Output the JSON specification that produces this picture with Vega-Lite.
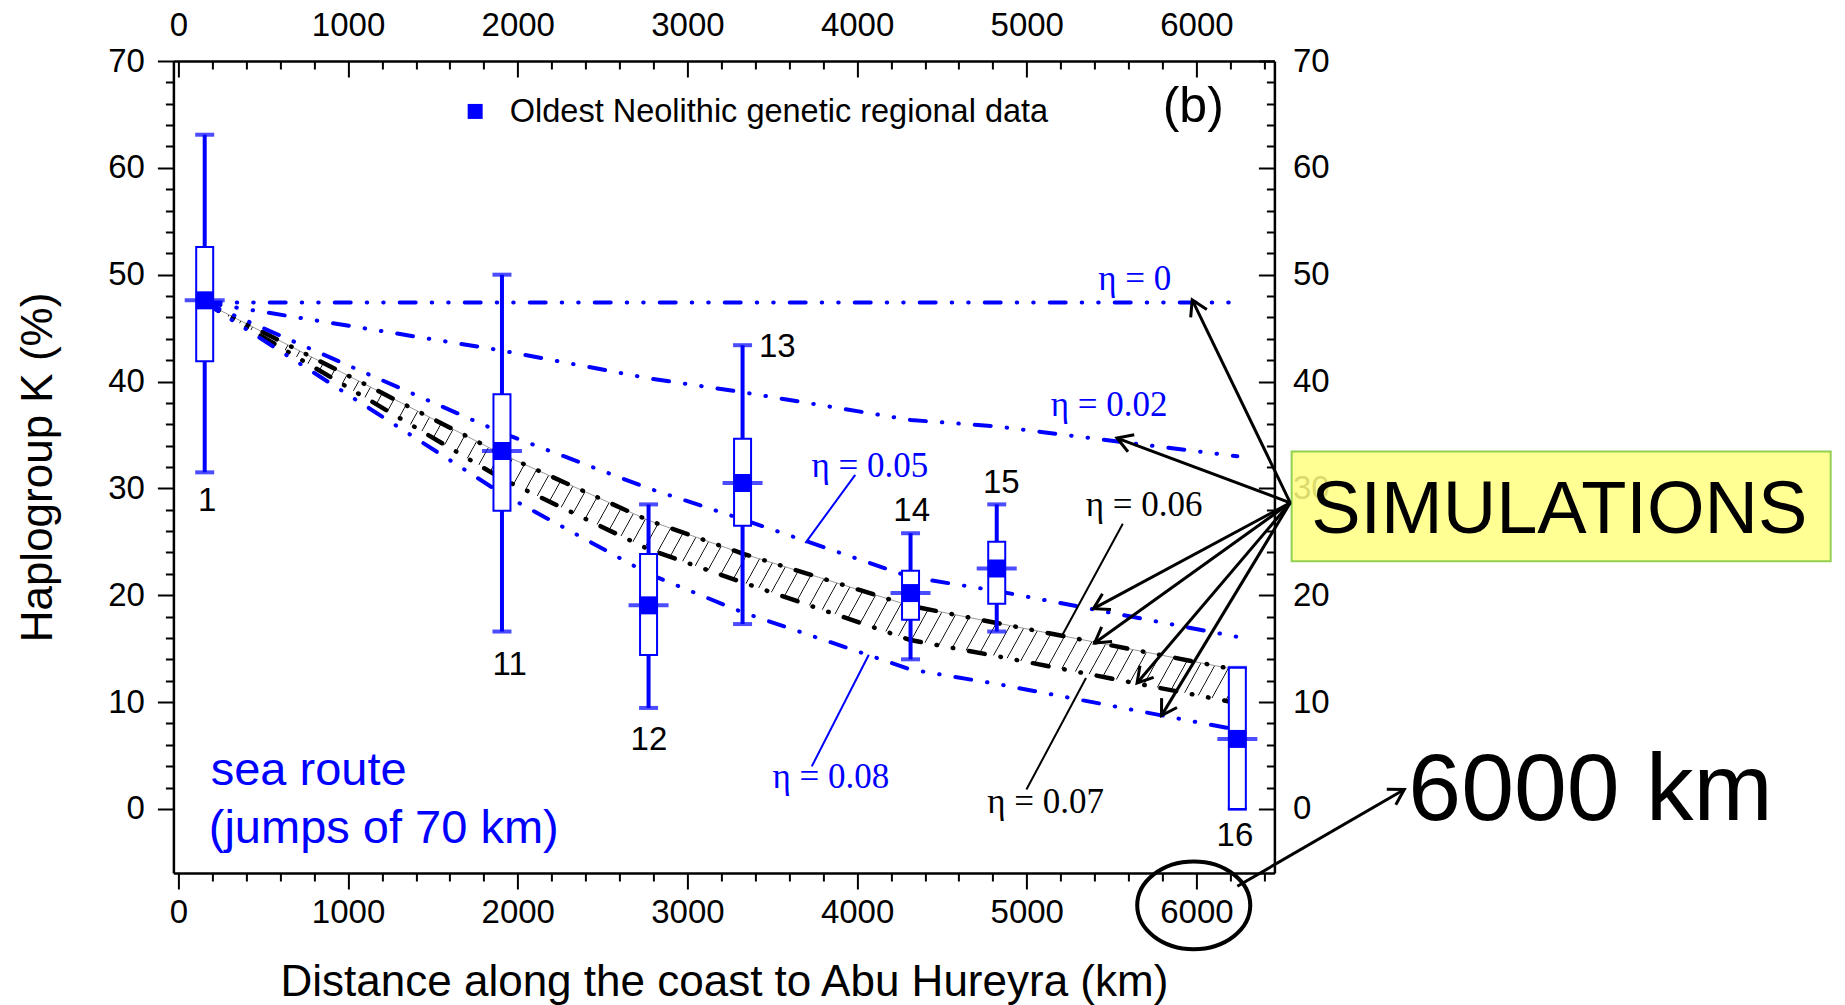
{
"$schema": "https://vega.github.io/schema/vega-lite/v6.json",
"width": 1101, "height": 812,
"autosize": {"type": "none"},
"padding": {"left": 173.4, "top": 61, "right": 570.6, "bottom": 132},
"background": "white",
"config": {
 "view": {"stroke": null},
 "axis": {"grid": false, "format": "d", "domainColor": "#000", "domainWidth": 2.5, "tickColor": "#000", "tickWidth": 2, "labelColor": "#000", "labelFont": "Liberation Sans", "labelFontSize": 33, "titleFont": "Liberation Sans", "titleFontSize": 44, "titleFontWeight": "normal", "titleColor": "#000", "labelFlush": false, "labelOverlap": false, "labelBound": false},
 "text": {"font": "Liberation Sans"}
},
"datasets": {
 "sites": [
  {"site":"1","distance":155,"mean":47.6,"q1":41.9,"q3":52.6,"low":31.5,"high":63.1},
  {"site":"11","distance":1907,"mean":33.5,"q1":27.9,"q3":38.8,"low":16.6,"high":50.0},
  {"site":"12","distance":2771,"mean":19.05,"q1":14.4,"q3":23.85,"low":9.45,"high":28.5},
  {"site":"13","distance":3325,"mean":30.5,"q1":26.5,"q3":34.65,"low":17.3,"high":43.4},
  {"site":"14","distance":4315,"mean":20.2,"q1":17.7,"q3":22.3,"low":14.0,"high":25.8},
  {"site":"15","distance":4823,"mean":22.5,"q1":19.2,"q3":25.0,"low":16.6,"high":28.5},
  {"site":"16","distance":6241,"mean":6.55,"q1":0,"q3":13.2,"low":0,"high":13.2}
 ],
 "siteLabels": [
  {"label":"1","distance":170,"K":27.84},
  {"label":"11","distance":1952,"K":12.56},
  {"label":"12","distance":2773,"K":5.48},
  {"label":"13","distance":3530,"K":42.34},
  {"label":"14","distance":4322,"K":26.9},
  {"label":"15","distance":4850,"K":29.56},
  {"label":"16","distance":6227,"K":-3.5}
 ],
 "sim": [
  {"distance":155,"eta0":47.4,"eta002":47.4,"eta005":47.4,"eta006":47.4,"eta007":47.4,"eta008":47.4},
  {"distance":1907,"eta0":47.4,"eta002":42.9,"eta005":35.2,"eta006":33.2,"eta007":30.9,"eta008":29.5},
  {"distance":2771,"eta0":47.4,"eta002":40.3,"eta005":30.0,"eta006":27.0,"eta007":24.3,"eta008":22.0},
  {"distance":3325,"eta0":47.4,"eta002":39.0,"eta005":27.1,"eta006":23.9,"eta007":21.2,"eta008":18.4},
  {"distance":4315,"eta0":47.4,"eta002":36.4,"eta005":21.7,"eta006":19.0,"eta007":15.8,"eta008":13.05},
  {"distance":4823,"eta0":47.4,"eta002":35.8,"eta005":20.4,"eta006":17.4,"eta007":14.3,"eta008":11.7},
  {"distance":6241,"eta0":47.4,"eta002":33.0,"eta005":16.1,"eta006":13.0,"eta007":9.9,"eta008":7.4}
 ],
 "etaLabels": [
  {"label":"η = 0","eta":0,"distance":5636,"K":48.58},
  {"label":"η = 0.02","eta":0.02,"distance":5485,"K":36.73},
  {"label":"η = 0.05","eta":0.05,"distance":4075,"K":31.11},
  {"label":"η = 0.06","eta":0.06,"distance":5692,"K":27.37},
  {"label":"η = 0.07","eta":0.07,"distance":5111,"K":-0.37},
  {"label":"η = 0.08","eta":0.08,"distance":3845,"K":1.96}
 ],
 "pointers": [
  {"eta":0.05,"distance":3989,"K":31.27,"distance2":3695,"K2":24.88},
  {"eta":0.08,"distance":3733,"K":3.98,"distance2":4069,"K2":14.43},
  {"eta":0.06,"distance":5566,"K":26.69,"distance2":5206,"K2":16.15},
  {"eta":0.07,"distance":4998,"K":1.81,"distance2":5349,"K2":12.25}
 ],
 "arrows": [
  {"target":"η = 0","distance":6553,"K":28.65,"distance2":5975,"K2":47.64,"angle":244.0},
  {"target":"η = 0.02","distance":6553,"K":28.65,"distance2":5532,"K2":34.71,"angle":200.3},
  {"target":"η = 0.05","distance":6553,"K":28.65,"distance2":5393,"K2":18.74,"angle":151.9},
  {"target":"η = 0.06","distance":6553,"K":28.65,"distance2":5400,"K2":15.53,"angle":144.6},
  {"target":"η = 0.07","distance":6553,"K":28.65,"distance2":5650,"K2":11.79,"angle":130.6},
  {"target":"η = 0.08","distance":6553,"K":28.65,"distance2":5794,"K2":8.73,"angle":121.4},
  {"target":"6000 km","distance":6241,"K":-7.24,"distance2":7225,"K2":1.81,"angle":330.15}
 ],
 "simBox": [{"label":"SIMULATIONS","distance":6561,"distance2":9738,"K":33.45,"K2":23.18,"textDistance":6676,"textK":25.82}],
 "circled": [{"label":"6000","distance":5984,"K":-9.03}],
 "bigLabel": [{"label":"6000 km","distance":7249,"K":-1.07}],
 "route": [{"label":"sea route","distance":190,"K":2.27},{"label":"(jumps of 70 km)","distance":179,"K":-3.15}],
 "legend": [{"label":"Oldest Neolithic genetic regional data","distance":1749,"K":65.28,"textDistance":1953,"textK":64.32}],
 "panel": [{"label":"(b)","distance":5981,"K":64.32}]
},
"resolve": {"axis": {"x": "independent", "y": "independent"}},
"layer": [
 {"data": {"name": "sim"},
  "mark": {"type": "area", "clip": false, "fill": {"gradient": "linear", "x1": 0, "y1": 0, "x2": 1.4, "y2": 0.3, "stops": [
{"offset":0,"color":"#fff"},{"offset":0.0006,"color":"#000"},{"offset":0.0012,"color":"#fff"},
{"offset":0.01,"color":"#fff"},{"offset":0.0106,"color":"#000"},{"offset":0.0112,"color":"#fff"},
{"offset":0.02,"color":"#fff"},{"offset":0.0206,"color":"#000"},{"offset":0.0212,"color":"#fff"},
{"offset":0.03,"color":"#fff"},{"offset":0.0306,"color":"#000"},{"offset":0.0312,"color":"#fff"},
{"offset":0.04,"color":"#fff"},{"offset":0.0406,"color":"#000"},{"offset":0.0412,"color":"#fff"},
{"offset":0.05,"color":"#fff"},{"offset":0.0506,"color":"#000"},{"offset":0.0512,"color":"#fff"},
{"offset":0.06,"color":"#fff"},{"offset":0.0606,"color":"#000"},{"offset":0.0612,"color":"#fff"},
{"offset":0.07,"color":"#fff"},{"offset":0.0706,"color":"#000"},{"offset":0.0712,"color":"#fff"},
{"offset":0.08,"color":"#fff"},{"offset":0.0806,"color":"#000"},{"offset":0.0812,"color":"#fff"},
{"offset":0.09,"color":"#fff"},{"offset":0.0906,"color":"#000"},{"offset":0.0912,"color":"#fff"},
{"offset":0.10,"color":"#fff"},{"offset":0.1006,"color":"#000"},{"offset":0.1012,"color":"#fff"},
{"offset":0.11,"color":"#fff"},{"offset":0.1106,"color":"#000"},{"offset":0.1112,"color":"#fff"},
{"offset":0.12,"color":"#fff"},{"offset":0.1206,"color":"#000"},{"offset":0.1212,"color":"#fff"},
{"offset":0.13,"color":"#fff"},{"offset":0.1306,"color":"#000"},{"offset":0.1312,"color":"#fff"},
{"offset":0.14,"color":"#fff"},{"offset":0.1406,"color":"#000"},{"offset":0.1412,"color":"#fff"},
{"offset":0.15,"color":"#fff"},{"offset":0.1506,"color":"#000"},{"offset":0.1512,"color":"#fff"},
{"offset":0.16,"color":"#fff"},{"offset":0.1606,"color":"#000"},{"offset":0.1612,"color":"#fff"},
{"offset":0.17,"color":"#fff"},{"offset":0.1706,"color":"#000"},{"offset":0.1712,"color":"#fff"},
{"offset":0.18,"color":"#fff"},{"offset":0.1806,"color":"#000"},{"offset":0.1812,"color":"#fff"},
{"offset":0.19,"color":"#fff"},{"offset":0.1906,"color":"#000"},{"offset":0.1912,"color":"#fff"},
{"offset":0.20,"color":"#fff"},{"offset":0.2006,"color":"#000"},{"offset":0.2012,"color":"#fff"},
{"offset":0.21,"color":"#fff"},{"offset":0.2106,"color":"#000"},{"offset":0.2112,"color":"#fff"},
{"offset":0.22,"color":"#fff"},{"offset":0.2206,"color":"#000"},{"offset":0.2212,"color":"#fff"},
{"offset":0.23,"color":"#fff"},{"offset":0.2306,"color":"#000"},{"offset":0.2312,"color":"#fff"},
{"offset":0.24,"color":"#fff"},{"offset":0.2406,"color":"#000"},{"offset":0.2412,"color":"#fff"},
{"offset":0.25,"color":"#fff"},{"offset":0.2506,"color":"#000"},{"offset":0.2512,"color":"#fff"},
{"offset":0.26,"color":"#fff"},{"offset":0.2606,"color":"#000"},{"offset":0.2612,"color":"#fff"},
{"offset":0.27,"color":"#fff"},{"offset":0.2706,"color":"#000"},{"offset":0.2712,"color":"#fff"},
{"offset":0.28,"color":"#fff"},{"offset":0.2806,"color":"#000"},{"offset":0.2812,"color":"#fff"},
{"offset":0.29,"color":"#fff"},{"offset":0.2906,"color":"#000"},{"offset":0.2912,"color":"#fff"},
{"offset":0.30,"color":"#fff"},{"offset":0.3006,"color":"#000"},{"offset":0.3012,"color":"#fff"},
{"offset":0.31,"color":"#fff"},{"offset":0.3106,"color":"#000"},{"offset":0.3112,"color":"#fff"},
{"offset":0.32,"color":"#fff"},{"offset":0.3206,"color":"#000"},{"offset":0.3212,"color":"#fff"},
{"offset":0.33,"color":"#fff"},{"offset":0.3306,"color":"#000"},{"offset":0.3312,"color":"#fff"},
{"offset":0.34,"color":"#fff"},{"offset":0.3406,"color":"#000"},{"offset":0.3412,"color":"#fff"},
{"offset":0.35,"color":"#fff"},{"offset":0.3506,"color":"#000"},{"offset":0.3512,"color":"#fff"},
{"offset":0.36,"color":"#fff"},{"offset":0.3606,"color":"#000"},{"offset":0.3612,"color":"#fff"},
{"offset":0.37,"color":"#fff"},{"offset":0.3706,"color":"#000"},{"offset":0.3712,"color":"#fff"},
{"offset":0.38,"color":"#fff"},{"offset":0.3806,"color":"#000"},{"offset":0.3812,"color":"#fff"},
{"offset":0.39,"color":"#fff"},{"offset":0.3906,"color":"#000"},{"offset":0.3912,"color":"#fff"},
{"offset":0.40,"color":"#fff"},{"offset":0.4006,"color":"#000"},{"offset":0.4012,"color":"#fff"},
{"offset":0.41,"color":"#fff"},{"offset":0.4106,"color":"#000"},{"offset":0.4112,"color":"#fff"},
{"offset":0.42,"color":"#fff"},{"offset":0.4206,"color":"#000"},{"offset":0.4212,"color":"#fff"},
{"offset":0.43,"color":"#fff"},{"offset":0.4306,"color":"#000"},{"offset":0.4312,"color":"#fff"},
{"offset":0.44,"color":"#fff"},{"offset":0.4406,"color":"#000"},{"offset":0.4412,"color":"#fff"},
{"offset":0.45,"color":"#fff"},{"offset":0.4506,"color":"#000"},{"offset":0.4512,"color":"#fff"},
{"offset":0.46,"color":"#fff"},{"offset":0.4606,"color":"#000"},{"offset":0.4612,"color":"#fff"},
{"offset":0.47,"color":"#fff"},{"offset":0.4706,"color":"#000"},{"offset":0.4712,"color":"#fff"},
{"offset":0.48,"color":"#fff"},{"offset":0.4806,"color":"#000"},{"offset":0.4812,"color":"#fff"},
{"offset":0.49,"color":"#fff"},{"offset":0.4906,"color":"#000"},{"offset":0.4912,"color":"#fff"},
{"offset":0.50,"color":"#fff"},{"offset":0.5006,"color":"#000"},{"offset":0.5012,"color":"#fff"},
{"offset":0.51,"color":"#fff"},{"offset":0.5106,"color":"#000"},{"offset":0.5112,"color":"#fff"},
{"offset":0.52,"color":"#fff"},{"offset":0.5206,"color":"#000"},{"offset":0.5212,"color":"#fff"},
{"offset":0.53,"color":"#fff"},{"offset":0.5306,"color":"#000"},{"offset":0.5312,"color":"#fff"},
{"offset":0.54,"color":"#fff"},{"offset":0.5406,"color":"#000"},{"offset":0.5412,"color":"#fff"},
{"offset":0.55,"color":"#fff"},{"offset":0.5506,"color":"#000"},{"offset":0.5512,"color":"#fff"},
{"offset":0.56,"color":"#fff"},{"offset":0.5606,"color":"#000"},{"offset":0.5612,"color":"#fff"},
{"offset":0.57,"color":"#fff"},{"offset":0.5706,"color":"#000"},{"offset":0.5712,"color":"#fff"},
{"offset":0.58,"color":"#fff"},{"offset":0.5806,"color":"#000"},{"offset":0.5812,"color":"#fff"},
{"offset":0.59,"color":"#fff"},{"offset":0.5906,"color":"#000"},{"offset":0.5912,"color":"#fff"},
{"offset":0.60,"color":"#fff"},{"offset":0.6006,"color":"#000"},{"offset":0.6012,"color":"#fff"},
{"offset":0.61,"color":"#fff"},{"offset":0.6106,"color":"#000"},{"offset":0.6112,"color":"#fff"},
{"offset":0.62,"color":"#fff"},{"offset":0.6206,"color":"#000"},{"offset":0.6212,"color":"#fff"},
{"offset":0.63,"color":"#fff"},{"offset":0.6306,"color":"#000"},{"offset":0.6312,"color":"#fff"},
{"offset":0.64,"color":"#fff"},{"offset":0.6406,"color":"#000"},{"offset":0.6412,"color":"#fff"},
{"offset":0.65,"color":"#fff"},{"offset":0.6506,"color":"#000"},{"offset":0.6512,"color":"#fff"},
{"offset":0.66,"color":"#fff"},{"offset":0.6606,"color":"#000"},{"offset":0.6612,"color":"#fff"},
{"offset":0.67,"color":"#fff"},{"offset":0.6706,"color":"#000"},{"offset":0.6712,"color":"#fff"},
{"offset":0.68,"color":"#fff"},{"offset":0.6806,"color":"#000"},{"offset":0.6812,"color":"#fff"},
{"offset":0.69,"color":"#fff"},{"offset":0.6906,"color":"#000"},{"offset":0.6912,"color":"#fff"},
{"offset":0.70,"color":"#fff"},{"offset":0.7006,"color":"#000"},{"offset":0.7012,"color":"#fff"},
{"offset":0.71,"color":"#fff"},{"offset":0.7106,"color":"#000"},{"offset":0.7112,"color":"#fff"},
{"offset":0.72,"color":"#fff"},{"offset":0.7206,"color":"#000"},{"offset":0.7212,"color":"#fff"},
{"offset":0.73,"color":"#fff"},{"offset":0.7306,"color":"#000"},{"offset":0.7312,"color":"#fff"},
{"offset":0.74,"color":"#fff"},{"offset":0.7406,"color":"#000"},{"offset":0.7412,"color":"#fff"},
{"offset":0.75,"color":"#fff"},{"offset":0.7506,"color":"#000"},{"offset":0.7512,"color":"#fff"},
{"offset":0.76,"color":"#fff"},{"offset":0.7606,"color":"#000"},{"offset":0.7612,"color":"#fff"},
{"offset":0.77,"color":"#fff"},{"offset":0.7706,"color":"#000"},{"offset":0.7712,"color":"#fff"},
{"offset":0.78,"color":"#fff"},{"offset":0.7806,"color":"#000"},{"offset":0.7812,"color":"#fff"},
{"offset":0.79,"color":"#fff"},{"offset":0.7906,"color":"#000"},{"offset":0.7912,"color":"#fff"},
{"offset":0.80,"color":"#fff"},{"offset":0.8006,"color":"#000"},{"offset":0.8012,"color":"#fff"},
{"offset":0.81,"color":"#fff"},{"offset":0.8106,"color":"#000"},{"offset":0.8112,"color":"#fff"},
{"offset":0.82,"color":"#fff"},{"offset":0.8206,"color":"#000"},{"offset":0.8212,"color":"#fff"},
{"offset":0.83,"color":"#fff"},{"offset":0.8306,"color":"#000"},{"offset":0.8312,"color":"#fff"}
  ]}},
  "encoding": {
   "x": {"field": "distance", "type": "quantitative", "scale": {"domain": [0, 6430], "nice": false, "zero": false},
     "axis": {"orient": "bottom", "values": [0,1000,2000,3000,4000,5000,6000], "format": "d", "tickSize": 16, "labelPadding": 33.6, "labelBaseline": "alphabetic", "title": "Distance along the coast to Abu Hureyra (km)", "titleY": 122, "titleBaseline": "alphabetic", "domain": true}},
   "y": {"field": "eta007", "type": "quantitative", "scale": {"domain": [-6, 70], "nice": false, "zero": false},
     "axis": {"orient": "left", "values": [0,10,20,30,40,50,60,70], "format": "d", "tickSize": 16, "labelPadding": 13, "title": "Haplogroup K (%)", "titleX": -121.4, "titleY": 406, "titleAngle": -90, "titleAlign": "center", "titleBaseline": "alphabetic", "domain": true}},
   "y2": {"field": "eta006"}
  }},
 {"data": {"name": "sim"},
  "mark": {"type": "line", "color": "#9a9a9a", "strokeWidth": 1, "clip": false},
  "encoding": {
   "x": {"field": "distance", "type": "quantitative", "scale": {"domain": [0, 6430], "nice": false, "zero": false},
     "axis": {"orient": "bottom", "values": [200,400,600,800,1200,1400,1600,1800,2200,2400,2600,2800,3200,3400,3600,3800,4200,4400,4600,4800,5200,5400,5600,5800,6200,6400], "tickSize": 8, "labels": false, "domain": false, "title": null}},
   "y": {"field": "eta006", "type": "quantitative", "scale": {"domain": [-6, 70], "nice": false, "zero": false},
     "axis": {"orient": "left", "values": [2,4,6,8,12,14,16,18,22,24,26,28,32,34,36,38,42,44,46,48,52,54,56,58,62,64,66,68], "tickSize": 8, "labels": false, "domain": false, "title": null}}
  }},
 {"data": {"name": "sim"},
  "transform": [{"fold": ["eta006", "eta007"], "as": ["curve", "K"]}],
  "mark": {"type": "line", "color": "#000", "strokeWidth": 4.5, "strokeDash": [16, 16, 0.5, 16, 0.5, 16], "strokeCap": "round", "clip": false},
  "encoding": {
   "x": {"field": "distance", "type": "quantitative", "scale": {"domain": [0, 6430], "nice": false, "zero": false},
     "axis": {"orient": "top", "values": [0,1000,2000,3000,4000,5000,6000], "format": "d", "tickSize": 0, "tickWidth": 0, "labelPadding": 25.8, "labelBaseline": "alphabetic", "title": null, "domain": true}},
   "y": {"field": "K", "type": "quantitative", "scale": {"domain": [-6, 70], "nice": false, "zero": false},
     "axis": {"orient": "right", "values": [0,10,20,30,40,50,60,70], "format": "d", "tickSize": 0, "tickWidth": 0, "labelPadding": 18, "title": null, "domain": true}},
   "detail": {"field": "curve"}
  }},
 {"data": {"name": "sim"},
  "transform": [{"fold": ["eta0", "eta002", "eta005", "eta008"], "as": ["curve", "K"]}],
  "mark": {"type": "line", "color": "#0000ff", "strokeWidth": 4, "strokeDash": [16, 16, 0.5, 16, 0.5, 16], "strokeCap": "round", "clip": false},
  "encoding": {
   "x": {"field": "distance", "type": "quantitative", "scale": {"domain": [0, 6430], "nice": false, "zero": false},
     "axis": {"orient": "bottom", "offset": -812, "values": [0,1000,2000,3000,4000,5000,6000], "tickSize": 16, "labels": false, "domain": false, "title": null}},
   "y": {"field": "K", "type": "quantitative", "scale": {"domain": [-6, 70], "nice": false, "zero": false},
     "axis": {"orient": "left", "offset": -1101, "values": [0,10,20,30,40,50,60,70], "tickSize": 16, "labels": false, "domain": false, "title": null}},
   "detail": {"field": "curve"}
  }},
 {"data": {"name": "sites"},
  "mark": {"type": "rule", "color": "#0000ff", "strokeWidth": 4, "clip": false},
  "encoding": {
   "x": {"field": "distance", "type": "quantitative", "scale": {"domain": [0, 6430], "nice": false, "zero": false},
     "axis": {"orient": "bottom", "offset": -812, "values": [200,400,600,800,1200,1400,1600,1800,2200,2400,2600,2800,3200,3400,3600,3800,4200,4400,4600,4800,5200,5400,5600,5800,6200,6400], "tickSize": 8, "labels": false, "domain": false, "title": null}},
   "y": {"field": "low", "type": "quantitative", "scale": {"domain": [-6, 70], "nice": false, "zero": false},
     "axis": {"orient": "left", "offset": -1101, "values": [2,4,6,8,12,14,16,18,22,24,26,28,32,34,36,38,42,44,46,48,52,54,56,58,62,64,66,68], "tickSize": 8, "labels": false, "domain": false, "title": null}},
   "y2": {"field": "high"}
  }},
 {"data": {"name": "sites"},
  "transform": [{"fold": ["low", "high"], "as": ["end", "K"]}],
  "mark": {"type": "tick", "orient": "horizontal", "color": "#0000ff", "size": 19, "thickness": 4, "clip": false},
  "encoding": {
   "x": {"field": "distance", "type": "quantitative", "scale": {"domain": [0, 6430], "nice": false, "zero": false}, "axis": null},
   "y": {"field": "K", "type": "quantitative", "scale": {"domain": [-6, 70], "nice": false, "zero": false}, "axis": null}
  }},
 {"data": {"name": "sites"},
  "mark": {"type": "bar", "width": 17, "fill": "white", "stroke": "#0000ff", "strokeWidth": 2, "clip": false},
  "encoding": {
   "x": {"field": "distance", "type": "quantitative", "scale": {"domain": [0, 6430], "nice": false, "zero": false}, "axis": null},
   "y": {"field": "q1", "type": "quantitative", "scale": {"domain": [-6, 70], "nice": false, "zero": false}, "axis": null},
   "y2": {"field": "q3"}
  }},
 {"data": {"name": "sites"},
  "mark": {"type": "tick", "orient": "horizontal", "color": "#0000ff", "size": 40, "thickness": 4, "clip": false},
  "encoding": {
   "x": {"field": "distance", "type": "quantitative", "scale": {"domain": [0, 6430], "nice": false, "zero": false}, "axis": null},
   "y": {"field": "mean", "type": "quantitative", "scale": {"domain": [-6, 70], "nice": false, "zero": false}, "axis": null}
  }},
 {"data": {"name": "sites"},
  "mark": {"type": "point", "shape": "square", "filled": true, "color": "#0000ff", "size": 324, "opacity": 1, "strokeWidth": 0, "clip": false},
  "encoding": {
   "x": {"field": "distance", "type": "quantitative", "scale": {"domain": [0, 6430], "nice": false, "zero": false}, "axis": null},
   "y": {"field": "mean", "type": "quantitative", "scale": {"domain": [-6, 70], "nice": false, "zero": false}, "axis": null}
  }},
 {"data": {"name": "siteLabels"},
  "mark": {"type": "text", "fontSize": 33, "align": "center", "baseline": "alphabetic", "color": "#000", "clip": false},
  "encoding": {
   "x": {"field": "distance", "type": "quantitative", "scale": {"domain": [0, 6430], "nice": false, "zero": false}, "axis": null},
   "y": {"field": "K", "type": "quantitative", "scale": {"domain": [-6, 70], "nice": false, "zero": false}, "axis": null},
   "text": {"field": "label"}
  }},
 {"data": {"name": "legend"},
  "mark": {"type": "point", "shape": "square", "filled": true, "color": "#0000ff", "size": 225, "opacity": 1, "strokeWidth": 0, "clip": false},
  "encoding": {
   "x": {"field": "distance", "type": "quantitative", "scale": {"domain": [0, 6430], "nice": false, "zero": false}, "axis": null},
   "y": {"field": "K", "type": "quantitative", "scale": {"domain": [-6, 70], "nice": false, "zero": false}, "axis": null}
  }},
 {"data": {"name": "legend"},
  "mark": {"type": "text", "fontSize": 32.5, "align": "left", "baseline": "alphabetic", "color": "#000", "clip": false},
  "encoding": {
   "x": {"field": "textDistance", "type": "quantitative", "scale": {"domain": [0, 6430], "nice": false, "zero": false}, "axis": null},
   "y": {"field": "textK", "type": "quantitative", "scale": {"domain": [-6, 70], "nice": false, "zero": false}, "axis": null},
   "text": {"field": "label"}
  }},
 {"data": {"name": "panel"},
  "mark": {"type": "text", "fontSize": 50, "align": "center", "baseline": "alphabetic", "color": "#000", "clip": false},
  "encoding": {
   "x": {"field": "distance", "type": "quantitative", "scale": {"domain": [0, 6430], "nice": false, "zero": false}, "axis": null},
   "y": {"field": "K", "type": "quantitative", "scale": {"domain": [-6, 70], "nice": false, "zero": false}, "axis": null},
   "text": {"field": "label"}
  }},
 {"data": {"name": "etaLabels"},
  "transform": [{"filter": "datum.eta != 0.06 && datum.eta != 0.07"}],
  "mark": {"type": "text", "font": "Liberation Serif", "fontSize": 35, "align": "center", "baseline": "alphabetic", "color": "#0000ff", "clip": false},
  "encoding": {
   "x": {"field": "distance", "type": "quantitative", "scale": {"domain": [0, 6430], "nice": false, "zero": false}, "axis": null},
   "y": {"field": "K", "type": "quantitative", "scale": {"domain": [-6, 70], "nice": false, "zero": false}, "axis": null},
   "text": {"field": "label"}
  }},
 {"data": {"name": "etaLabels"},
  "transform": [{"filter": "datum.eta == 0.06 || datum.eta == 0.07"}],
  "mark": {"type": "text", "font": "Liberation Serif", "fontSize": 35, "align": "center", "baseline": "alphabetic", "color": "#000", "clip": false},
  "encoding": {
   "x": {"field": "distance", "type": "quantitative", "scale": {"domain": [0, 6430], "nice": false, "zero": false}, "axis": null},
   "y": {"field": "K", "type": "quantitative", "scale": {"domain": [-6, 70], "nice": false, "zero": false}, "axis": null},
   "text": {"field": "label"}
  }},
 {"data": {"name": "pointers"},
  "transform": [{"filter": "datum.eta != 0.06 && datum.eta != 0.07"}],
  "mark": {"type": "rule", "color": "#0000ff", "strokeWidth": 2, "clip": false},
  "encoding": {
   "x": {"field": "distance", "type": "quantitative", "scale": {"domain": [0, 6430], "nice": false, "zero": false}, "axis": null},
   "y": {"field": "K", "type": "quantitative", "scale": {"domain": [-6, 70], "nice": false, "zero": false}, "axis": null},
   "x2": {"field": "distance2"},
   "y2": {"field": "K2"}
  }},
 {"data": {"name": "pointers"},
  "transform": [{"filter": "datum.eta == 0.06 || datum.eta == 0.07"}],
  "mark": {"type": "rule", "color": "#000", "strokeWidth": 2, "clip": false},
  "encoding": {
   "x": {"field": "distance", "type": "quantitative", "scale": {"domain": [0, 6430], "nice": false, "zero": false}, "axis": null},
   "y": {"field": "K", "type": "quantitative", "scale": {"domain": [-6, 70], "nice": false, "zero": false}, "axis": null},
   "x2": {"field": "distance2"},
   "y2": {"field": "K2"}
  }},
 {"data": {"name": "simBox"},
  "mark": {"type": "rect", "fill": "#ffff80", "fillOpacity": 0.85, "stroke": "#92d050", "strokeWidth": 2, "clip": false},
  "encoding": {
   "x": {"field": "distance", "type": "quantitative", "scale": {"domain": [0, 6430], "nice": false, "zero": false}, "axis": null},
   "y": {"field": "K", "type": "quantitative", "scale": {"domain": [-6, 70], "nice": false, "zero": false}, "axis": null},
   "x2": {"field": "distance2"},
   "y2": {"field": "K2"}
  }},
 {"data": {"name": "simBox"},
  "mark": {"type": "text", "fontSize": 74, "align": "left", "baseline": "alphabetic", "color": "#000", "clip": false},
  "encoding": {
   "x": {"field": "textDistance", "type": "quantitative", "scale": {"domain": [0, 6430], "nice": false, "zero": false}, "axis": null},
   "y": {"field": "textK", "type": "quantitative", "scale": {"domain": [-6, 70], "nice": false, "zero": false}, "axis": null},
   "text": {"field": "label"}
  }},
 {"data": {"name": "arrows"},
  "mark": {"type": "rule", "color": "#000", "strokeWidth": 3, "clip": false},
  "encoding": {
   "x": {"field": "distance", "type": "quantitative", "scale": {"domain": [0, 6430], "nice": false, "zero": false}, "axis": null},
   "y": {"field": "K", "type": "quantitative", "scale": {"domain": [-6, 70], "nice": false, "zero": false}, "axis": null},
   "x2": {"field": "distance2"},
   "y2": {"field": "K2"}
  }},
 {"data": {"name": "arrows"},
  "mark": {"type": "point", "shape": "M -1 -0.6 L 0 0 L -1 0.6", "filled": false, "stroke": "#000", "strokeWidth": 3, "strokeJoin": "miter", "opacity": 1, "size": 900, "clip": false},
  "encoding": {
   "x": {"field": "distance2", "type": "quantitative", "scale": {"domain": [0, 6430], "nice": false, "zero": false}, "axis": null},
   "y": {"field": "K2", "type": "quantitative", "scale": {"domain": [-6, 70], "nice": false, "zero": false}, "axis": null},
   "angle": {"field": "angle", "type": "quantitative", "scale": null}
  }},
 {"data": {"name": "circled"},
  "mark": {"type": "point", "shape": "M -1.289 0 A 1.289 1 0 1 0 1.289 0 A 1.289 1 0 1 0 -1.289 0 Z", "filled": false, "stroke": "#000", "strokeWidth": 4, "opacity": 1, "size": 7691, "clip": false},
  "encoding": {
   "x": {"field": "distance", "type": "quantitative", "scale": {"domain": [0, 6430], "nice": false, "zero": false}, "axis": null},
   "y": {"field": "K", "type": "quantitative", "scale": {"domain": [-6, 70], "nice": false, "zero": false}, "axis": null}
  }},
 {"data": {"name": "bigLabel"},
  "mark": {"type": "text", "fontSize": 95, "align": "left", "baseline": "alphabetic", "color": "#000", "clip": false},
  "encoding": {
   "x": {"field": "distance", "type": "quantitative", "scale": {"domain": [0, 6430], "nice": false, "zero": false}, "axis": null},
   "y": {"field": "K", "type": "quantitative", "scale": {"domain": [-6, 70], "nice": false, "zero": false}, "axis": null},
   "text": {"field": "label"}
  }},
 {"data": {"name": "route"},
  "mark": {"type": "text", "fontSize": 47, "align": "left", "baseline": "alphabetic", "color": "#0000ff", "clip": false},
  "encoding": {
   "x": {"field": "distance", "type": "quantitative", "scale": {"domain": [0, 6430], "nice": false, "zero": false}, "axis": null},
   "y": {"field": "K", "type": "quantitative", "scale": {"domain": [-6, 70], "nice": false, "zero": false}, "axis": null},
   "text": {"field": "label"}
  }}
]
}
